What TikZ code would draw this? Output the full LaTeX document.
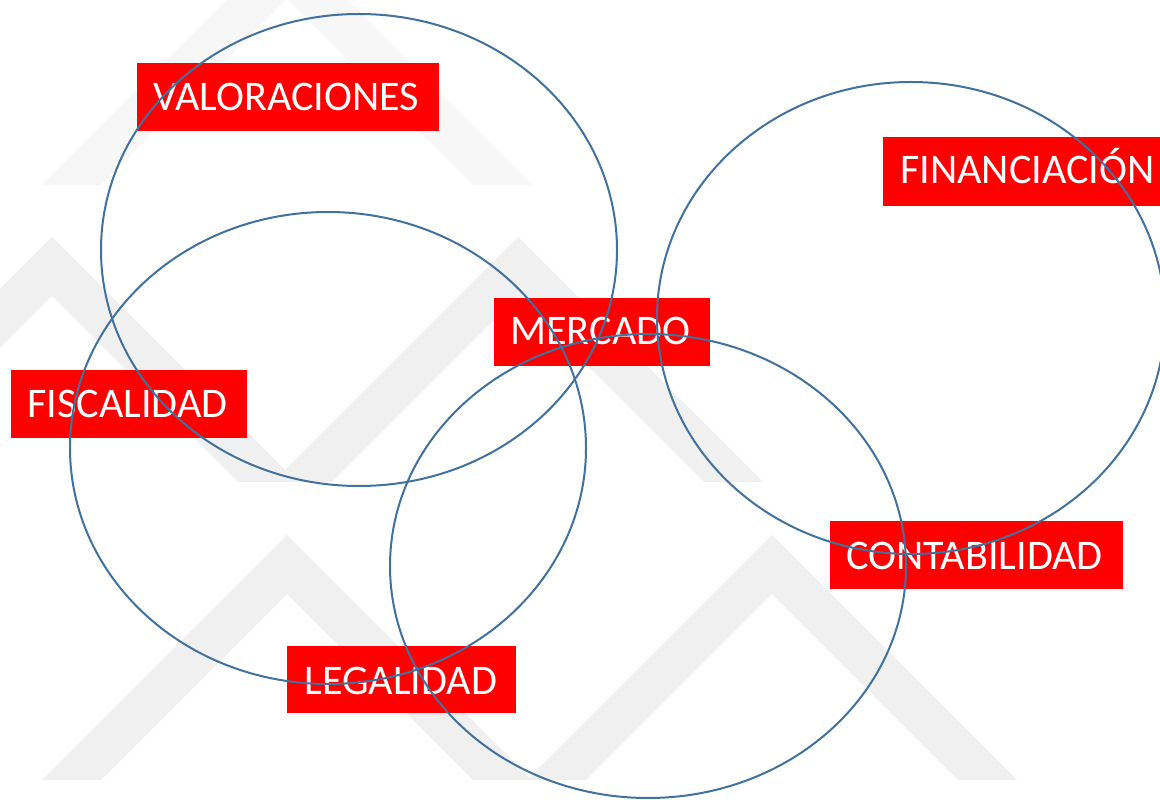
\documentclass[tikz,border=0pt]{standalone}
\usepackage{fontspec}
\setmainfont{Carlito}
\definecolor{ringblue}{RGB}{65,113,156}
\definecolor{wm}{RGB}{240,240,240}
\definecolor{wmlight}{RGB}{247,247,247}
\begin{document}
\begin{tikzpicture}[x=0.02cm,y=-0.02cm,
  tag/.style={fill=red, inner sep=0pt, anchor=north west},
  tagtext/.style={text=white, font=\fontsize{24}{28}\selectfont, inner sep=0pt, anchor=base west},
  ring/.style={draw=ringblue, line width=0.04cm}]
\useasboundingbox (0,0) rectangle (1160,800);
\fill[white] (0,0) rectangle (1160,800);
% watermark chevrons
\foreach \ax/\ay/\c in {287/-60/wmlight, 52/237/wm, 518/237/wm, 287/535/wm, 772/535/wm}
  \fill[\c] ({\ax-245},{\ay+245}) -- (\ax,\ay) -- ({\ax+245},{\ay+245}) -- ({\ax+186},{\ay+245}) -- (\ax,{\ay+59}) -- ({\ax-186},{\ay+245}) -- cycle;
% label boxes
\node[tag, minimum width=6.04cm, minimum height=1.36cm] (valbox) at (137,63) {};
\node[tagtext] (val) at ([shift={(16,48)}]valbox.north west) {VALORACIONES};
\node[tag, minimum width=5.54cm, minimum height=1.38cm] (finbox) at (883,137) {};
\node[tagtext] (fin) at ([shift={(17,47)}]finbox.north west) {FINANCIACIÓN};
\node[tag, minimum width=4.32cm, minimum height=1.36cm] (merbox) at (494,298) {};
\node[tagtext] (mer) at ([shift={(16,47)}]merbox.north west) {MERCADO};
\node[tag, minimum width=4.72cm, minimum height=1.36cm] (fisbox) at (11,370) {};
\node[tagtext] (fis) at ([shift={(16,48)}]fisbox.north west) {FISCALIDAD};
\node[tag, minimum width=5.86cm, minimum height=1.36cm] (conbox) at (830,521) {};
\node[tagtext] (con) at ([shift={(16,48)}]conbox.north west) {CONTABILIDAD};
\node[tag, minimum width=4.58cm, minimum height=1.34cm] (legbox) at (287,646) {};
\node[tagtext] (leg) at ([shift={(17,48)}]legbox.north west) {LEGALIDAD};
% rings
\draw[ring] (359,250) ellipse [x radius=258, y radius=236];
\draw[ring] (328,448) ellipse [x radius=258, y radius=236];
\draw[ring] (648,566) ellipse [x radius=258, y radius=232];
\draw[ring] (911,318) ellipse [x radius=254, y radius=236];
\end{tikzpicture}
\end{document}
